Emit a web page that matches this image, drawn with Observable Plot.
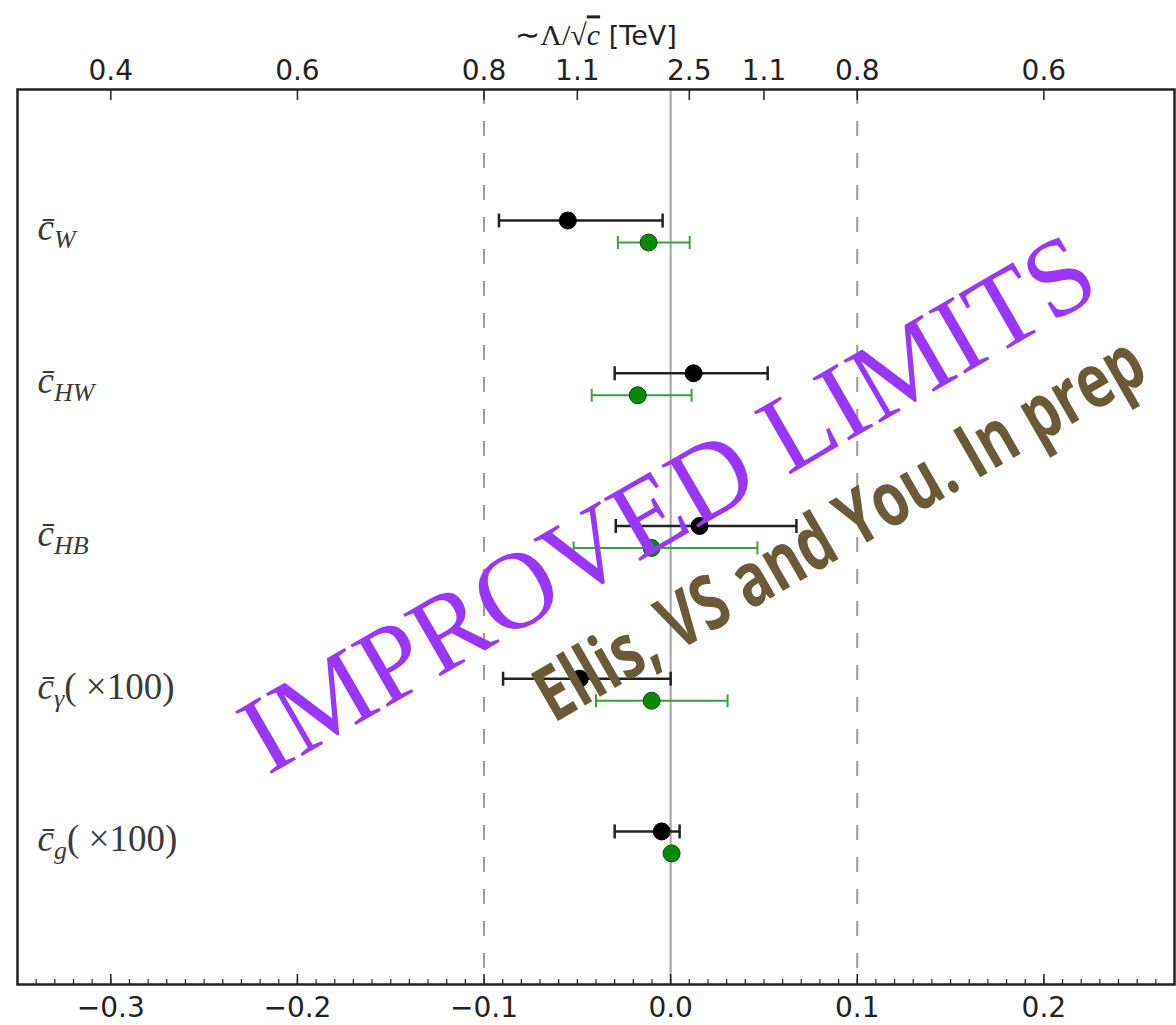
<!DOCTYPE html>
<html>
<head>
<meta charset="utf-8">
<script src="https://cdn.jsdelivr.net/npm/d3@7"></script>
<script src="https://cdn.jsdelivr.net/npm/@observablehq/plot@0.6"></script>
<style>
  body { margin: 0; background: #fff; }
  #chart svg { display: block; }
</style>
</head>
<body>
<div id="chart"></div>
<script>
// Wilson coefficients, top to bottom
const coefSubscripts = ["W", "HW", "HB", "γ", "g"];
const coefSuffix = ["", "", "", "( ×100)", "( ×100)"];

// Current limits (black): best fit and interval
const currentCentral = [-0.0551, 0.0123, 0.0155, -0.0487, -0.0048];
const currentLow     = [-0.0920, -0.0300, -0.0294, -0.0898, -0.0300];
const currentHigh    = [-0.0043, 0.0520, 0.0674, 0.0000, 0.0048];

// Improved limits (green): best fit and interval
const improvedCentral = [-0.0118, -0.0176, -0.0102, -0.0102, 0.0005];
const improvedLow     = [-0.0283, -0.0423, -0.0520, -0.0400, 0.0005];
const improvedHigh    = [0.0102, 0.0112, 0.0465, 0.0305, 0.0005];

// Axes
const bottomTicks = [-0.3, -0.2, -0.1, 0.0, 0.1, 0.2];
const topTicks = [-0.3, -0.2, -0.1, -0.05, 0.01, 0.05, 0.1, 0.2];
const topTickLabels = ["0.4", "0.6", "0.8", "1.1", "2.5", "1.1", "0.8", "0.6"];
const minorTicks = d3.range(-34, 27).map(k => k / 100);
const referenceLines = [-0.1, 0.1];
const topTitle = "∼Λ/√c [TeV]";
const stampMain = "IMPROVED LIMITS";
const stampAuthors = "Ellis, VS and You. In prep";

const rows = coefSubscripts.map((s, i) => ({
  row: i + 1,
  label: "c̄" + s + coefSuffix[i],
  cur: currentCentral[i], curLo: currentLow[i], curHi: currentHigh[i],
  imp: improvedCentral[i], impLo: improvedLow[i], impHi: improvedHigh[i]
}));

const W = 1176, H = 1025;
const mTop = 89, mBottom = 41, mLeft = 17, mRight = 2;
const frameH = H - mTop - mBottom;
const offset = 11; // vertical separation of the two series within a row

// vertical bar used as error-bar cap
const capSymbol = {
  draw(context, size) {
    const h = Math.sqrt(size / Math.PI);
    context.moveTo(0, -h);
    context.lineTo(0, h);
  }
};

const barGreen = "#37a337";
const dotGreen = "#0a8a0a";

const chart = Plot.plot({
  width: W,
  height: H,
  marginTop: mTop,
  marginBottom: mBottom,
  marginLeft: mLeft,
  marginRight: mRight,
  style: {fontFamily: "DejaVu Sans", fontSize: "28px", color: "#222", background: "#fff"},
  x: {domain: [-0.35, 0.27]},
  y: {domain: [0.07, 5.93], reverse: true, axis: null},
  marks: [
    // reference lines
    Plot.ruleX(referenceLines, {stroke: "#9a9a9a", strokeWidth: 2, strokeDasharray: "15,17"}),
    Plot.ruleX([0], {stroke: "#a0a0a0", strokeWidth: 2}),

    // ticks (pointing into the frame)
    Plot.ruleX(bottomTicks, {insetTop: frameH - 10, stroke: "#222", strokeWidth: 1.5}),
    Plot.ruleX(minorTicks, {insetTop: frameH - 5, stroke: "#222", strokeWidth: 1.2}),
    Plot.ruleX(topTicks, {insetBottom: frameH - 11, stroke: "#222", strokeWidth: 1.5}),

    // axis labels
    Plot.axisX(bottomTicks, {anchor: "bottom", tickSize: 0, tickPadding: 13,
      tickFormat: d3.format(".1f"), label: null}),
    Plot.axisX(topTicks, {anchor: "top", tickSize: 0, tickPadding: 10,
      tickFormat: d => topTickLabels[topTicks.indexOf(d)], label: null}),
    Plot.text([topTitle], {frameAnchor: "top", dy: -64, fill: "#222"}),

    // row labels
    Plot.text(rows, {y: "row", text: "label", frameAnchor: "left", dx: 20, dy: -3,
      textAnchor: "start", fontSize: 37, fontFamily: "Liberation Serif", fill: "#3a3a3a"}),

    // current limits
    Plot.ruleY(rows, {y: "row", x1: "curLo", x2: "curHi", dy: -offset, stroke: "#222", strokeWidth: 2.5}),
    Plot.dot(rows, {x: "curLo", y: "row", dy: -offset, symbol: capSymbol, r: 7, stroke: "#222", strokeWidth: 2.5}),
    Plot.dot(rows, {x: "curHi", y: "row", dy: -offset, symbol: capSymbol, r: 7, stroke: "#222", strokeWidth: 2.5}),
    Plot.dot(rows, {x: "cur", y: "row", dy: -offset, r: 8.5, fill: "#000", stroke: "#000", strokeWidth: 1}),

    // improved limits
    Plot.ruleY(rows, {y: "row", x1: "impLo", x2: "impHi", dy: offset, stroke: barGreen, strokeWidth: 2}),
    Plot.dot(rows, {x: "impLo", y: "row", dy: offset, symbol: capSymbol, r: 6.5, stroke: barGreen, strokeWidth: 2}),
    Plot.dot(rows, {x: "impHi", y: "row", dy: offset, symbol: capSymbol, r: 6.5, stroke: barGreen, strokeWidth: 2}),
    Plot.dot(rows, {x: "imp", y: "row", dy: offset, r: 8.5, fill: dotGreen, stroke: "#064d06", strokeWidth: 1}),

    Plot.frame({stroke: "#222", strokeWidth: 2.5}),

    // stamps
    Plot.text([stampMain], {frameAnchor: "middle", dx: 72, dy: -33, rotate: -30,
      fontSize: 110, fontFamily: "Liberation Serif", fill: "#9a35fa"}),
    Plot.text([stampAuthors], {frameAnchor: "middle", dx: 244, dy: -7, rotate: -30,
      fontSize: 76, fontWeight: 700, fontFamily: "Open Sans", fill: "#6b5a37"})
  ]
});

// Typeset math labels with tspans
const NS = "http://www.w3.org/2000/svg";
function tspan(parent, text, attrs) {
  const t = document.createElementNS(NS, "tspan");
  t.textContent = text;
  for (const [k, v] of Object.entries(attrs || {})) t.setAttribute(k, v);
  parent.appendChild(t);
  return t;
}
const labelStrings = rows.map(d => d.label);
chart.querySelectorAll("text").forEach(t => {
  const content = t.textContent;
  const i = labelStrings.indexOf(content);
  if (i >= 0) {
    t.textContent = "";
    tspan(t, "c̄", {"font-style": "italic"});
    tspan(t, coefSubscripts[i], {"font-style": "italic", "font-size": 26, dy: 8});
    if (coefSuffix[i]) tspan(t, coefSuffix[i], {dy: -8});
  } else if (content === topTitle) {
    t.textContent = "";
    tspan(t, "∼Λ/√", {"font-family": "Liberation Serif", "font-size": 30});
    tspan(t, "c", {"font-family": "Liberation Serif", "font-style": "italic", "font-size": 30,
      style: "text-decoration: overline"});
    tspan(t, " [TeV]", {"font-family": "DejaVu Sans", "font-size": 27});
  } else if (content === stampMain) {
    t.setAttribute("textLength", 965);
    t.setAttribute("lengthAdjust", "spacingAndGlyphs");
  } else if (content === stampAuthors) {
    t.setAttribute("textLength", 690);
    t.setAttribute("lengthAdjust", "spacingAndGlyphs");
  }
});

document.getElementById("chart").appendChild(chart);
</script>
</body>
</html>
